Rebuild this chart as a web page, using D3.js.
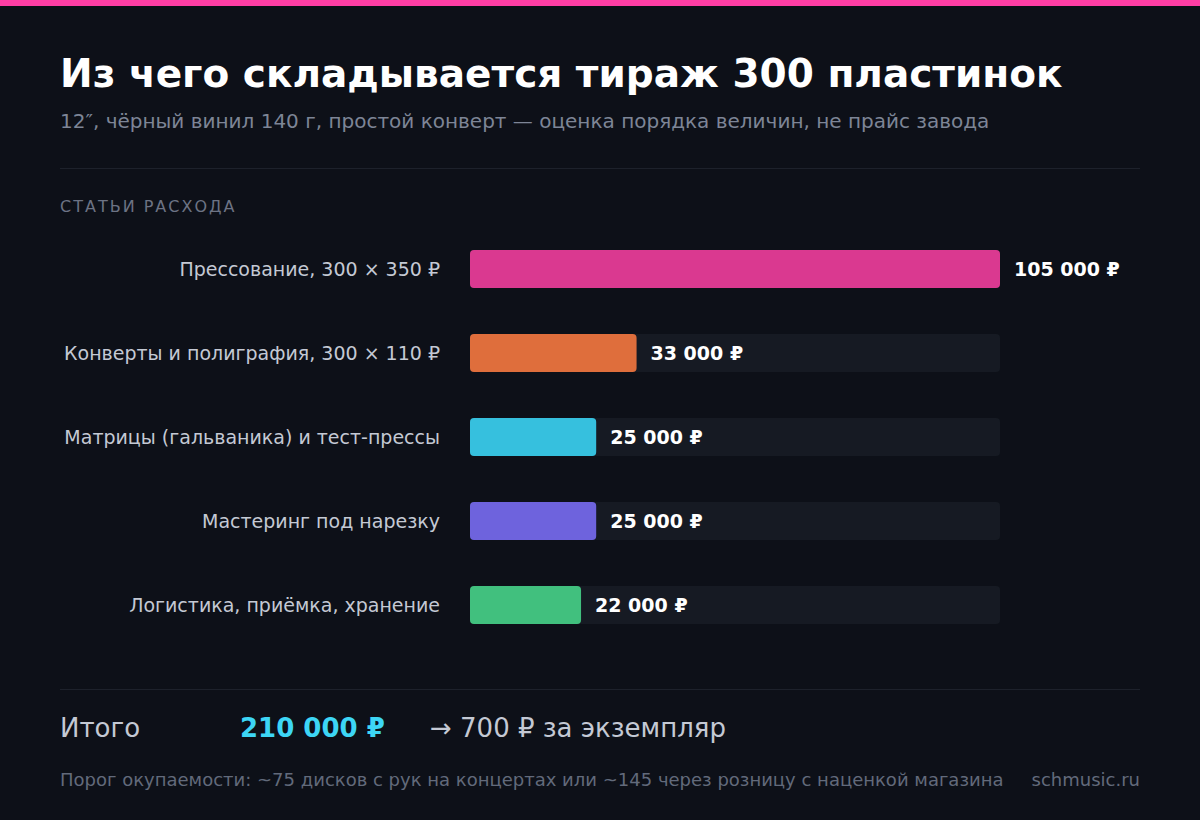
<!DOCTYPE html><html><head><meta charset="utf-8">
<script src="https://cdn.jsdelivr.net/npm/d3@7"></script>
<style>body{margin:0;background:#0d1018}</style></head><body>
<script>
const categories=["Прессование, 300 × 350 ₽","Конверты и полиграфия, 300 × 110 ₽","Матрицы (гальваника) и тест-прессы","Мастеринг под нарезку","Логистика, приёмка, хранение"];
const values=[105000,33000,25000,25000,22000];
const colors=["#da3990","#df6e3c","#36c0de","#6e63dd","#41c07e"];
const labels=["105 000 ₽","33 000 ₽","25 000 ₽","25 000 ₽","22 000 ₽"];
const W=1200,H=820,F="DejaVu Sans, sans-serif";
const svg=d3.select("body").append("svg").attr("width",W).attr("height",H).style("font-family",F);
svg.append("rect").attr("width",W).attr("height",H).attr("fill","#0d1018");
svg.append("rect").attr("width",W).attr("height",6).attr("fill","#ff3ea5");
svg.append("text").attr("x",60).attr("y",87).attr("fill","#fff").attr("font-size",39).attr("font-weight","bold").text("Из чего складывается тираж 300 пластинок");
svg.append("text").attr("x",60).attr("y",128).attr("fill","#7d8596").attr("font-size",20).text("12″, чёрный винил 140 г, простой конверт — оценка порядка величин, не прайс завода");
svg.append("line").attr("x1",60).attr("x2",1140).attr("y1",168.5).attr("y2",168.5).attr("stroke","#1d212b");
svg.append("text").attr("x",60).attr("y",212).attr("fill","#6c7384").attr("font-size",16).attr("letter-spacing",2).text("СТАТЬИ РАСХОДА");
const x=d3.scaleLinear().domain([0,105000]).range([470,1000]);
const y=d3.scaleBand().domain(categories).range([227,647]).paddingInner(0.548).paddingOuter(0.274);
const g=svg.append("g");
categories.forEach((c,i)=>{
 const yy=y(c),h=y.bandwidth();
 g.append("rect").attr("x",x(0)).attr("y",yy).attr("width",x(105000)-x(0)).attr("height",h).attr("rx",4).attr("fill","#161a23");
 g.append("rect").attr("x",x(0)).attr("y",yy).attr("width",x(values[i])-x(0)).attr("height",h).attr("rx",4).attr("fill",colors[i]);
 g.append("text").attr("x",440).attr("y",yy+h/2).attr("dy","0.35em").attr("text-anchor","end").attr("fill","#c4c9d4").attr("font-size",19).text(c);
 g.append("text").attr("x",x(values[i])+14).attr("y",yy+h/2).attr("dy","0.35em").attr("fill","#fff").attr("font-size",19).attr("font-weight","bold").text(labels[i]);
});
svg.append("line").attr("x1",60).attr("x2",1140).attr("y1",689.5).attr("y2",689.5).attr("stroke","#1d212b");
svg.append("text").attr("x",60).attr("y",737).attr("fill","#c4c9d4").attr("font-size",26).text("Итого");
svg.append("text").attr("x",240).attr("y",737).attr("fill","#3dd6f5").attr("font-size",26).attr("font-weight","bold").text("210 000 ₽");
svg.append("text").attr("x",430).attr("y",737).attr("fill","#c4c9d4").attr("font-size",26).text("→ 700 ₽ за экземпляр");
svg.append("text").attr("x",60).attr("y",786).attr("fill","#626a7b").attr("font-size",18).text("Порог окупаемости: ~75 дисков с рук на концертах или ~145 через розницу с наценкой магазина");
svg.append("text").attr("x",1140).attr("y",786).attr("text-anchor","end").attr("fill","#626a7b").attr("font-size",18).text("schmusic.ru");
</script></body></html>
